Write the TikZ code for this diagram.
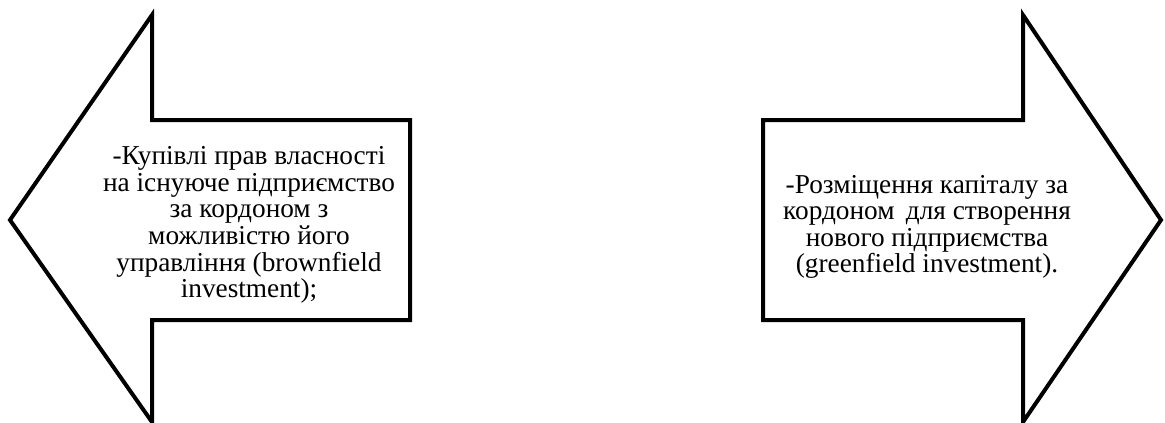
\documentclass[tikz,border=0pt]{standalone}
\usepackage{fontspec}
\setmainfont{Liberation Serif}
\usetikzlibrary{positioning}

\begin{document}
\begin{tikzpicture}[x=1pt, y=-1pt, line width=4pt, line join=miter,
  arrowtext/.style={align=center, font=\fontsize{27.3}{26.6}\selectfont, inner sep=0pt}]
\useasboundingbox[fill=white] (0,0) rectangle (1165,423);
% left arrow (brownfield)
\draw (10,220) -- (152,15) -- (152,120) -- (410,120) -- (410,320)
  -- (152,320) -- (152,422) -- cycle;
\node[arrowtext] (brown) at (249,225) {-Купівлі прав власності\\на існуюче підприємство\\за кордоном з\\можливістю його\\управління (brownfield\\investment);};
% right arrow (greenfield)
\draw (1161,220) -- (1023,15) -- (1023,120) -- (763,120) -- (763,320)
  -- (1023,320) -- (1023,422) -- cycle;
\node[arrowtext] (green) at (927,227) {-Розміщення капіталу за\\кордоном\, для створення\\нового підприємства\\(greenfield investment).};
\end{tikzpicture}
\end{document}
